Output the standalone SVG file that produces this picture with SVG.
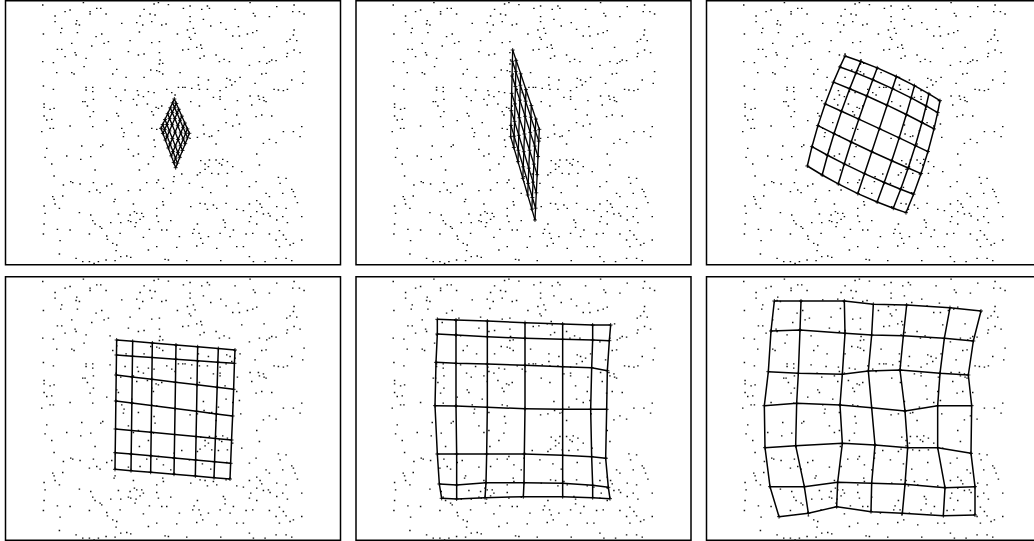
<svg xmlns="http://www.w3.org/2000/svg" xmlns:xlink="http://www.w3.org/1999/xlink" width="1034" height="541" viewBox="0 0 1034 541">
<style>
.frame{fill:#fff;stroke:#000;stroke-width:1.5}
.g{fill:none;stroke:#000;stroke-width:4.5;stroke-linejoin:round}
.thin{stroke-width:4}
.c{marker-start:url(#n);marker-mid:url(#n);marker-end:url(#n)}
</style>
<defs>
<marker id="n" markerUnits="userSpaceOnUse" markerWidth="12" markerHeight="12" viewBox="0 0 12 12" refX="6" refY="6" overflow="visible"><path d="M6 0V12M0 6H12" stroke="#000" stroke-width="2.6" fill="none"/></marker>
<path id="dots" fill="none" stroke="#111" stroke-width="4" stroke-linecap="square" d="M128 15h.5M250 8h.5M462 12h.5M475 8h.5M505 14h.5M550 25h.5M570 18h.5M622 18h.5M628 25h.5M750 8h.5M830 20h.5M882 15h.5M165 48h.5M195 35h.5M210 30h.5M270 35h.5M270 42h.5M290 25h.5M302 25h.5M318 42h.5M432 28h.5M420 48h.5M450 42h.5M465 45h.5M570 50h.5M605 28h.5M705 28h.5M760 40h.5M765 48h.5M808 50h.5M878 35h.5M898 35h.5M912 42h.5M165 65h.5M230 62h.5M238 75h.5M228 72h.5M365 70h.5M410 68h.5M428 75h.5M455 65h.5M485 75h.5M498 72h.5M570 65h.5M610 58h.5M632 78h.5M662 68h.5M715 80h.5M185 85h.5M182 98h.5M232 98h.5M130 102h.5M288 110h.5M305 102h.5M418 96h.5M532 102h.5M562 90h.5M580 85h.5M585 100h.5M678 88h.5M698 108h.5M718 108h.5M742 102h.5M758 98h.5M770 92h.5M882 90h.5M880 105h.5M215 130h.5M275 138h.5M312 130h.5M325 125h.5M390 122h.5M455 128h.5M478 125h.5M568 112h.5M572 118h.5M548 150h.5M590 142h.5M602 135h.5M605 145h.5M725 145h.5M792 142h.5M870 118h.5M860 125h.5M890 122h.5M172 148h.5M185 148h.5M225 158h.5M228 165h.5M195 170h.5M385 155h.5M415 165h.5M432 162h.5M478 158h.5M565 148h.5M600 175h.5M612 168h.5M648 165h.5M658 185h.5M672 178h.5M688 185h.5M862 160h.5M860 170h.5M882 150h.5M900 158h.5M128 185h.5M160 188h.5M258 175h.5M330 178h.5M480 180h.5M478 192h.5M488 190h.5M778 185h.5M808 185h.5M815 180h.5M828 182h.5M800 190h.5M748 196h.5M252 200h.5M350 208h.5M338 222h.5M170 218h.5M215 218h.5M222 222h.5M452 210h.5M470 212h.5M478 215h.5M488 222h.5M432 232h.5M540 218h.5M595 232h.5M625 240h.5M680 235h.5M690 240h.5M705 245h.5M720 232h.5M785 222h.5M798 220h.5M912 215h.5M378 232h.5M130 258h.5M160 268h.5M258 262h.5M258 270h.5M278 262h.5M278 275h.5M330 265h.5M375 270h.5M412 272h.5M415 285h.5M445 275h.5M462 278h.5M500 268h.5M515 278h.5M535 262h.5M548 262h.5M555 262h.5M575 265h.5M595 255h.5M598 268h.5M622 268h.5M660 272h.5M678 262h.5M695 255h.5M765 250h.5M875 240h.5M908 250h.5M822 268h.5M835 270h.5M850 272h.5M862 268h.5M132 312h.5M150 328h.5M162 325h.5M132 322h.5M248 305h.5M255 305h.5M262 318h.5M280 298h.5M348 290h.5M362 302h.5M400 298h.5M410 315h.5M430 290h.5M442 312h.5M475 325h.5M485 318h.5M525 285h.5M572 305h.5M598 318h.5M640 292h.5M660 290h.5M660 298h.5M712 302h.5M750 288h.5M775 288h.5M778 298h.5M790 292h.5M792 302h.5M798 305h.5M755 315h.5M132 348h.5M140 360h.5M155 358h.5M280 335h.5M270 350h.5M350 340h.5M355 348h.5M320 362h.5M278 380h.5M455 335h.5M460 345h.5M468 322h.5M675 328h.5M710 345h.5M768 350h.5M785 345h.5M815 348h.5M150 385h.5M160 385h.5M125 395h.5M210 378h.5M365 385h.5M372 398h.5M370 410h.5M395 368h.5M455 385h.5M470 388h.5M610 375h.5M655 392h.5M678 368h.5M698 378h.5M718 372h.5M850 395h.5M880 395h.5M905 380h.5M415 408h.5M302 440h.5M308 435h.5M245 438h.5M140 445h.5M462 420h.5M465 440h.5M570 415h.5M592 412h.5M612 402h.5M628 410h.5M635 408h.5M648 432h.5M722 412h.5M790 430h.5M808 418h.5M828 428h.5M900 410h.5M200 468h.5M242 478h.5M135 472h.5M272 470h.5M385 448h.5M400 468h.5M415 462h.5M460 470h.5M445 492h.5M602 482h.5M615 492h.5M628 480h.5M648 480h.5M658 490h.5M665 495h.5M682 485h.5M698 500h.5M615 508h.5M625 500h.5M668 478h.5M770 462h.5M778 495h.5M725 515h.5M155 492h.5M162 528h.5M190 555h.5M212 545h.5M218 548h.5M285 510h.5M335 552h.5M418 510h.5M440 548h.5M470 548h.5M475 540h.5M520 545h.5M522 530h.5M545 522h.5M568 550h.5M592 525h.5M600 518h.5M635 520h.5M655 522h.5M682 520h.5M768 545h.5M835 532h.5M858 535h.5M840 550h.5M875 568h.5M880 575h.5M240 552h.5M280 548h.5M188 588h.5M268 575h.5M290 570h.5M300 578h.5M320 558h.5M385 572h.5M420 570h.5M490 565h.5M512 580h.5M607 562h.5M632 578h.5M680 558h.5M748 560h.5M770 602h.5M798 580h.5M808 590h.5M848 580h.5M885 590h.5M892 608h.5M158 590h.5M162 598h.5M165 612h.5M178 625h.5M132 618h.5M135 640h.5M238 638h.5M272 645h.5M345 598h.5M342 605h.5M400 612h.5M403 635h.5M410 640h.5M390 645h.5M425 640h.5M470 625h.5M488 605h.5M490 615h.5M572 620h.5M600 610h.5M615 612h.5M622 628h.5M640 615h.5M650 625h.5M678 610h.5M710 628h.5M730 632h.5M748 612h.5M780 612h.5M785 622h.5M770 635h.5M805 640h.5M830 620h.5M858 625h.5M905 650h.5M132 672h.5M172 688h.5M210 690h.5M278 662h.5M285 672h.5M300 680h.5M305 685h.5M332 668h.5M355 642h.5M362 668h.5M385 662h.5M392 665h.5M408 668h.5M420 658h.5M430 650h.5M405 680h.5M448 688h.5M475 665h.5M470 648h.5M485 690h.5M500 690h.5M512 662h.5M592 672h.5M582 688h.5M597 700h.5M670 660h.5M675 668h.5M675 682h.5M700 690h.5M752 650h.5M748 665h.5M770 672h.5M790 642h.5M810 648h.5M830 660h.5M848 650h.5M862 668h.5M130 702h.5M180 722h.5M268 702h.5M320 708h.5M322 718h.5M360 700h.5M430 712h.5M538 710h.5M578 700h.5M602 715h.5M625 710h.5M660 700h.5M690 710h.5M738 702h.5M758 700h.5M808 702h.5M838 692h.5M828 720h.5M850 705h.5M858 718h.5M905 720h.5M880 730h.5M178 762h.5M228 775h.5M248 785h.5M268 785h.5M282 790h.5M295 785h.5M318 780h.5M338 730h.5M350 735h.5M348 752h.5M362 770h.5M345 782h.5M380 768h.5M392 772h.5M445 750h.5M470 740h.5M505 780h.5M495 778h.5M530 742h.5M560 782h.5M590 738h.5M608 730h.5M650 745h.5M662 782h.5M710 740h.5M730 740h.5M748 770h.5M760 785h.5M795 785h.5M828 775h.5M858 775h.5M875 782h.5M838 740h.5M870 735h.5"/>
</defs>
<rect width="1034" height="541" fill="#fff"/>

<g id="panel1">
<rect class="frame" x="5.5" y="0.75" width="335" height="264"/>
<use xlink:href="#dots" href="#dots" transform="scale(0.33333)"/>
<g transform="translate(155,95) scale(0.33333)">
<polyline class="g thin c" points="58,12 52.8,23.4 46,38.4 38,56 30,73.6 23.2,88.6 18,100"/>
<polyline class="g thin c" points="63.9,25.4 58.6,37.1 51.8,52.4 43.8,70.4 35.8,88.4 28.9,103.6 23.7,115.3"/>
<polyline class="g thin c" points="71.5,42.9 66.3,54.9 59.4,70.7 51.4,89.2 43.3,107.7 36.4,123.4 31.2,135.4"/>
<polyline class="g thin c" points="80.5,63.5 75.2,75.9 68.4,92.2 60.3,111.3 52.2,130.4 45.3,146.6 40,159"/>
<polyline class="g thin c" points="89.5,84.1 84.2,96.9 77.3,113.7 69.2,133.4 61,153.1 54.1,169.8 48.8,182.6"/>
<polyline class="g thin c" points="97.2,101.6 91.8,114.7 84.9,131.9 76.7,152.1 68.5,172.3 61.6,189.5 56.3,202.7"/>
<polyline class="g thin c" points="103,115 97.7,128.4 90.7,145.9 82.5,166.5 74.3,187.1 67.3,204.6 62,218"/>
<polyline class="g thin" points="58,12 63.9,25.4 71.5,42.9 80.5,63.5 89.5,84.1 97.2,101.6 103,115"/>
<polyline class="g thin" points="52.8,23.4 58.6,37.1 66.3,54.9 75.2,75.9 84.2,96.9 91.8,114.7 97.7,128.4"/>
<polyline class="g thin" points="46,38.4 51.8,52.4 59.4,70.7 68.4,92.2 77.3,113.7 84.9,131.9 90.7,145.9"/>
<polyline class="g thin" points="38,56 43.8,70.4 51.4,89.2 60.3,111.3 69.2,133.4 76.7,152.1 82.5,166.5"/>
<polyline class="g thin" points="30,73.6 35.8,88.4 43.3,107.7 52.2,130.4 61,153.1 68.5,172.3 74.3,187.1"/>
<polyline class="g thin" points="23.2,88.6 28.9,103.6 36.4,123.4 45.3,146.6 54.1,169.8 61.6,189.5 67.3,204.6"/>
<polyline class="g thin" points="18,100 23.7,115.3 31.2,135.4 40,159 48.8,182.6 56.3,202.7 62,218"/>
</g>
</g>

<g id="panel2">
<rect class="frame" x="356" y="0.75" width="335" height="264"/>
<use xlink:href="#dots" href="#dots" transform="translate(350.5,0) scale(0.33333)"/>
<g transform="translate(490,40) scale(0.33333)">
<polyline class="g thin c" points="68,30 67.2,63.8 66.2,108 65,160 63.8,212 62.8,256.2 62,290"/>
<polyline class="g thin c" points="78.4,60.9 77.5,94.9 76.3,139.4 74.9,191.7 73.6,244 72.4,288.5 71.5,322.5"/>
<polyline class="g thin c" points="92,101.4 90.9,135.7 89.6,180.5 88,233.2 86.3,285.9 85,330.7 83.9,365"/>
<polyline class="g thin c" points="108,149 106.8,183.6 105.2,228.8 103.3,282 101.4,335.2 99.7,380.4 98.5,415"/>
<polyline class="g thin c" points="124,196.6 122.6,231.5 120.7,277.1 118.6,330.8 116.4,384.5 114.5,430.1 113.1,465"/>
<polyline class="g thin c" points="137.6,237.1 136,272.3 134,318.2 131.6,372.3 129.1,426.4 127.1,472.4 125.5,507.5"/>
<polyline class="g thin c" points="148,268 146.3,303.4 144.1,349.6 141.5,404 138.9,458.4 136.7,504.6 135,540"/>
<polyline class="g thin" points="68,30 78.4,60.9 92,101.4 108,149 124,196.6 137.6,237.1 148,268"/>
<polyline class="g thin" points="67.2,63.8 77.5,94.9 90.9,135.7 106.8,183.6 122.6,231.5 136,272.3 146.3,303.4"/>
<polyline class="g thin" points="66.2,108 76.3,139.4 89.6,180.5 105.2,228.8 120.7,277.1 134,318.2 144.1,349.6"/>
<polyline class="g thin" points="65,160 74.9,191.7 88,233.2 103.3,282 118.6,330.8 131.6,372.3 141.5,404"/>
<polyline class="g thin" points="63.8,212 73.6,244 86.3,285.9 101.4,335.2 116.4,384.5 129.1,426.4 138.9,458.4"/>
<polyline class="g thin" points="62.8,256.2 72.4,288.5 85,330.7 99.7,380.4 114.5,430.1 127.1,472.4 136.7,504.6"/>
<polyline class="g thin" points="62,290 71.5,322.5 83.9,365 98.5,415 113.1,465 125.5,507.5 135,540"/>
</g>
</g>

<g id="panel3">
<rect class="frame" x="706.5" y="0.75" width="335" height="264"/>
<use xlink:href="#dots" href="#dots" transform="translate(701,0) scale(0.33333)"/>
<g transform="translate(800,50) scale(0.33333)">
<polyline class="g c" points="135,18 119.9,50.8 100.3,96.5 75.4,161.7 53.8,226.9 35.9,290.1 22,348"/>
<polyline class="g c" points="182.3,34.4 168,68.6 149.1,116.2 124.4,183.7 102,251 82.5,315.8 66.5,375"/>
<polyline class="g c" points="231.6,53.7 218.4,89.1 200.6,138.1 176.4,207.4 153.6,276 132.8,341.8 114.8,401.6"/>
<polyline class="g c" points="289.1,79.5 277.4,115.7 261.2,165.6 238.1,235.9 215.3,305.1 193.4,371 173.5,430.7"/>
<polyline class="g c" points="343.4,107 333.4,143.5 319,193.6 297.6,263.7 275.3,332.4 252.8,397.5 231.4,456"/>
<polyline class="g c" points="386.8,131.6 378.4,167.9 365.8,217.5 346.2,286.7 324.6,354.1 302,417.7 279.8,474.7"/>
<polyline class="g c" points="420,152 413,187.8 402,236.7 384,304.7 363.2,370.7 340.7,432.7 318,488"/>
<polyline class="g" points="135,18 182.3,34.4 231.6,53.7 289.1,79.5 343.4,107 386.8,131.6 420,152"/>
<polyline class="g" points="119.9,50.8 168,68.6 218.4,89.1 277.4,115.7 333.4,143.5 378.4,167.9 413,187.8"/>
<polyline class="g" points="100.3,96.5 149.1,116.2 200.6,138.1 261.2,165.6 319,193.6 365.8,217.5 402,236.7"/>
<polyline class="g" points="75.4,161.7 124.4,183.7 176.4,207.4 238.1,235.9 297.6,263.7 346.2,286.7 384,304.7"/>
<polyline class="g" points="53.8,226.9 102,251 153.6,276 215.3,305.1 275.3,332.4 324.6,354.1 363.2,370.7"/>
<polyline class="g" points="35.9,290.1 82.5,315.8 132.8,341.8 193.4,371 252.8,397.5 302,417.7 340.7,432.7"/>
<polyline class="g" points="22,348 66.5,375 114.8,401.6 173.5,430.7 231.4,456 279.8,474.7 318,488"/>
</g>
</g>

<g id="panel4">
<rect class="frame" x="5.5" y="276.75" width="335" height="263.5"/>
<use xlink:href="#dots" href="#dots" transform="translate(0,276.5) scale(0.33333)"/>
<g transform="translate(100,330) scale(0.33333)">
<polyline class="g c" points="50,30 49.4,75 48.6,135 47.6,213 46.6,297 45.6,368 45,418"/>
<polyline class="g c" points="98,34.1 97.4,78.4 96.6,140.8 95.6,219.1 94.6,301.5 93.6,372.3 93,421.9"/>
<polyline class="g c" points="157,39 156.4,82.5 155.6,147.9 154.6,226.5 153.6,306.9 152.6,377.6 152,426.7"/>
<polyline class="g c" points="228,45 227.3,87.5 226.4,156.5 225.2,235.5 223.9,313.5 222.8,384 222,432.5"/>
<polyline class="g c" points="293,50.5 292.2,92.1 291.1,164.4 289.7,243.8 288.2,319.6 286.9,389.9 286,437.8"/>
<polyline class="g c" points="355,55.8 353.5,96.5 351.5,171.9 348.9,251.7 346.1,325.3 343.7,395.5 342,442.9"/>
<polyline class="g c" points="405,60 403.3,100 400.9,178 397.9,258 394.7,330 391.9,400 390,447"/>
<polyline class="g" points="50,30 98,34.1 157,39 228,45 293,50.5 355,55.8 405,60"/>
<polyline class="g" points="49.4,75 97.4,78.4 156.4,82.5 227.3,87.5 292.2,92.1 353.5,96.5 403.3,100"/>
<polyline class="g" points="48.6,135 96.6,140.8 155.6,147.9 226.4,156.5 291.1,164.4 351.5,171.9 400.9,178"/>
<polyline class="g" points="47.6,213 95.6,219.1 154.6,226.5 225.2,235.5 289.7,243.8 348.9,251.7 397.9,258"/>
<polyline class="g" points="46.6,297 94.6,301.5 153.6,306.9 223.9,313.5 288.2,319.6 346.1,325.3 394.7,330"/>
<polyline class="g" points="45.6,368 93.6,372.3 152.6,377.6 222.8,384 286.9,389.9 343.7,395.5 391.9,400"/>
<polyline class="g" points="45,418 93,421.9 152,426.7 222,432.5 286,437.8 342,442.9 390,447"/>
</g>
</g>

<g id="panel5">
<rect class="frame" x="356" y="276.75" width="335" height="263.5"/>
<use xlink:href="#dots" href="#dots" transform="translate(350.5,276.5) scale(0.33333)"/>
<g transform="translate(430,310) scale(0.33333)">
<polyline class="g c" points="22,28 22,72 18,157 15,287 22,432 28,522 35,565"/>
<polyline class="g c" points="78,30 78,75 78,160 78,288 80,432 80,525 80,567"/>
<polyline class="g c" points="172,33 172,80 172,162 172,292 170,432 168,518 165,563"/>
<polyline class="g c" points="285,38 285,85 285,166 285,296 283,432 282,518 280,560"/>
<polyline class="g c" points="398,42 398,88 398,170 398,298 398,436 398,520 398,560"/>
<polyline class="g c" points="488,45 488,90 485,173 482,298 485,440 488,526 488,563"/>
<polyline class="g c" points="542,45 538,92 532,182 530,298 527,445 535,532 540,566"/>
<polyline class="g" points="22,28 78,30 172,33 285,38 398,42 488,45 542,45"/>
<polyline class="g" points="22,72 78,75 172,80 285,85 398,88 488,90 538,92"/>
<polyline class="g" points="18,157 78,160 172,162 285,166 398,170 485,173 532,182"/>
<polyline class="g" points="15,287 78,288 172,292 285,296 398,298 482,298 530,298"/>
<polyline class="g" points="22,432 80,432 170,432 283,432 398,436 485,440 527,445"/>
<polyline class="g" points="28,522 80,525 168,518 282,518 398,520 488,526 535,532"/>
<polyline class="g" points="35,565 80,567 165,563 280,560 398,560 488,563 540,566"/>
</g>
</g>

<g id="panel6">
<rect class="frame" x="706.5" y="276.75" width="335" height="263.5"/>
<use xlink:href="#dots" href="#dots" transform="translate(701,276.5) scale(0.33333)"/>
<g transform="translate(755,295) scale(0.33333)">
<polyline class="g c" points="58,18 48,108 40,230 28,332 30,458 45,575 72,665"/>
<polyline class="g c" points="138,18 135,105 130,235 125,325 122,452 148,575 160,655"/>
<polyline class="g c" points="268,18 270,115 262,238 255,330 262,445 248,562 245,635"/>
<polyline class="g c" points="355,28 350,120 340,228 350,338 360,450 350,565 348,650"/>
<polyline class="g c" points="455,30 445,122 435,225 450,348 458,458 450,568 442,655"/>
<polyline class="g c" points="585,38 568,130 555,235 548,332 548,458 570,578 565,662"/>
<polyline class="g c" points="678,48 655,138 640,240 650,332 648,475 660,575 660,660"/>
<polyline class="g" points="58,18 138,18 268,18 355,28 455,30 585,38 678,48"/>
<polyline class="g" points="48,108 135,105 270,115 350,120 445,122 568,130 655,138"/>
<polyline class="g" points="40,230 130,235 262,238 340,228 435,225 555,235 640,240"/>
<polyline class="g" points="28,332 125,325 255,330 350,338 450,348 548,332 650,332"/>
<polyline class="g" points="30,458 122,452 262,445 360,450 458,458 548,458 648,475"/>
<polyline class="g" points="45,575 148,575 248,562 350,565 450,568 570,578 660,575"/>
<polyline class="g" points="72,665 160,655 245,635 348,650 442,655 565,662 660,660"/>
</g>
</g>
</svg>
